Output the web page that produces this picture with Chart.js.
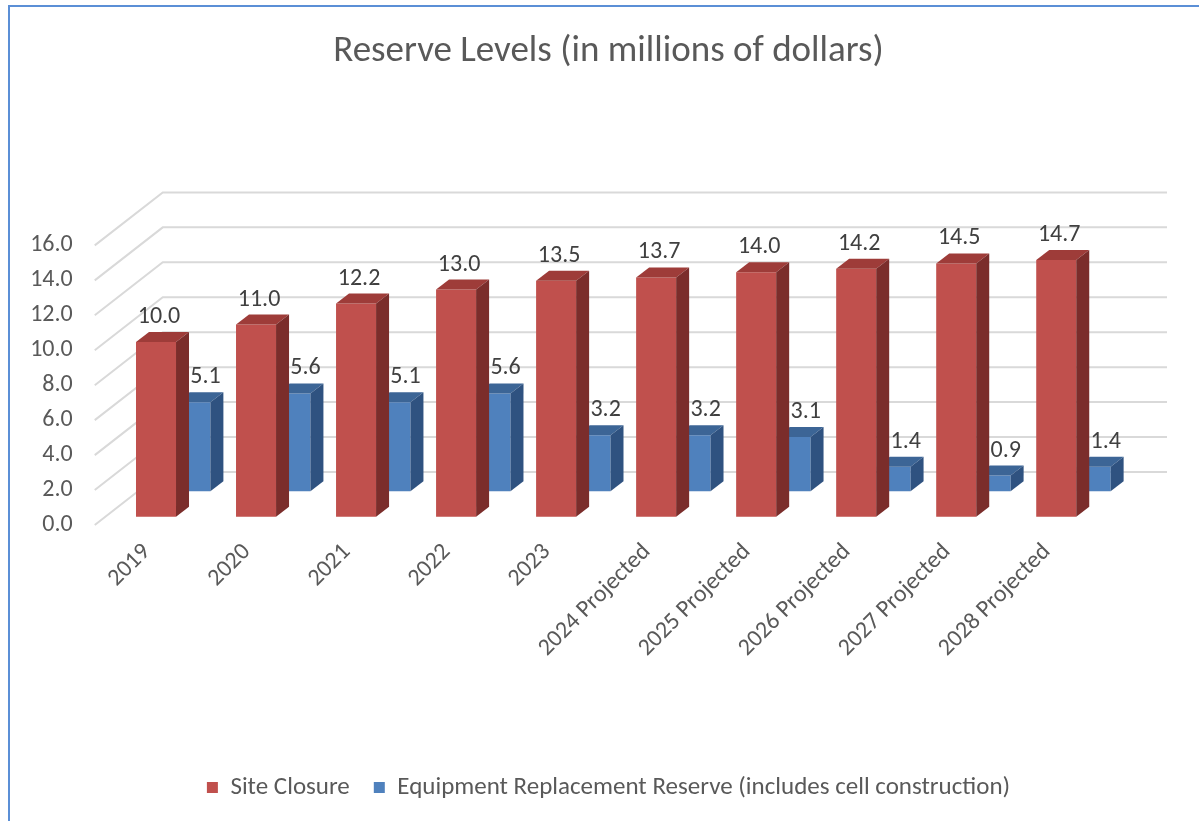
<!DOCTYPE html>
<html>
<head>
<meta charset="utf-8">
<title>Reserve Levels</title>
<script src="https://cdn.jsdelivr.net/npm/chart.js@4.4.1/dist/chart.umd.min.js"></script>
<style>
  html, body { margin: 0; padding: 0; background: #fff; }
  #wrap { position: relative; width: 1199px; height: 821px; }
</style>
</head>
<body>
<div id="wrap"><canvas id="reserveChart"></canvas></div>
<script>
// Values (millions of dollars)
const categories = ['2019', '2020', '2021', '2022', '2023',
    '2024 Projected', '2025 Projected', '2026 Projected', '2027 Projected', '2028 Projected'];
const siteClosure = [10.0, 11.0, 12.2, 13.0, 13.5, 13.7, 14.0, 14.2, 14.5, 14.7];
const equipmentReserve = [5.1, 5.6, 5.1, 5.6, 3.2, 3.2, 3.1, 1.4, 0.9, 1.4];
const seriesNames = ['Site Closure', 'Equipment Replacement Reserve (includes cell construction)'];
const yMax = 16;
const yStep = 2;

// fake 3D look: each series sits on its own depth plane
const RED_LIFT = 0.47;   // red plane raised above the front axis plane (value units)
const BLUE_LIFT = 1.93;  // blue plane sits further back
const DEPTH_X = 13, DEPTH_Y = 10;
const FONT = 'Calibri, Carlito, Lato, sans-serif';
const TEXT = '#595959';

const faces = [
    { front: '#C0504D', top: '#9E3C39', side: '#7B2D2B', labelShift: 3 },
    { front: '#4F81BD', top: '#3C6596', side: '#2F5280', labelShift: 12 }
];

const bars3d = {
    id: 'bars3d',
    beforeDraw(chart) {
        // thin blue frame on top and left like the pasted picture
        const c = chart.ctx;
        c.save();
        c.strokeStyle = '#5B8FD6';
        c.lineWidth = 2;
        c.beginPath();
        c.moveTo(9, chart.height);
        c.lineTo(9, 6);
        c.lineTo(chart.width, 6);
        c.stroke();
        c.restore();
    },
    beforeDatasetsDraw(chart) {
        const c = chart.ctx;
        const yf = chart.scales.yf;
        const a = chart.chartArea;
        c.save();
        c.strokeStyle = '#D9D9D9';
        c.lineWidth = 2;
        yf.ticks.forEach(t => {
            const y = yf.getPixelForValue(t.value);
            c.beginPath();
            c.moveTo(a.left - 30, y);
            c.lineTo(a.left + 38, y - 53);
            c.lineTo(a.right + 42, y - 53);
            c.stroke();
        });
        c.restore();
    },
    afterDatasetDraw(chart, args) {
        const c = chart.ctx;
        const f = faces[args.index];
        c.save();
        args.meta.data.forEach(bar => {
            const p = bar.getProps(['x', 'y', 'base', 'width'], true);
            const l = p.x - p.width / 2, r = p.x + p.width / 2;
            c.fillStyle = f.top;
            c.beginPath();
            c.moveTo(l, p.y);
            c.lineTo(r, p.y);
            c.lineTo(r + DEPTH_X, p.y - DEPTH_Y);
            c.lineTo(l + DEPTH_X, p.y - DEPTH_Y);
            c.closePath();
            c.fill();
            c.fillStyle = f.side;
            c.beginPath();
            c.moveTo(r, p.y);
            c.lineTo(r + DEPTH_X, p.y - DEPTH_Y);
            c.lineTo(r + DEPTH_X, p.base - DEPTH_Y);
            c.lineTo(r, p.base);
            c.closePath();
            c.fill();
        });
        c.restore();
    },
    afterDatasetsDraw(chart) {
        const c = chart.ctx;
        c.save();
        c.font = '24px ' + FONT;
        c.fillStyle = '#404040';
        c.textAlign = 'center';
        c.textBaseline = 'middle';
        chart.data.datasets.forEach((ds, i) => {
            const meta = chart.getDatasetMeta(i);
            meta.data.forEach((bar, j) => {
                const p = bar.getProps(['x', 'y'], true);
                c.fillText(ds.data[j].toFixed(1), p.x + faces[i].labelShift, p.y - 25);
            });
        });
        c.restore();
    }
};

const ctx = document.getElementById('reserveChart').getContext('2d');
new Chart(ctx, {
    type: 'bar',
    data: {
        labels: categories,
        datasets: [{
            label: seriesNames[0],
            data: siteClosure,
            backgroundColor: faces[0].front,
            yAxisID: 'y',
            categoryPercentage: 0.75,
            barPercentage: 1.067
        }, {
            label: seriesNames[1],
            data: equipmentReserve,
            backgroundColor: faces[1].front,
            yAxisID: 'y2',
            categoryPercentage: 0.75,
            barPercentage: 0.9
        }]
    },
    options: {
        responsive: true,
        maintainAspectRatio: false,
        animation: false,
        layout: { padding: { left: 18, right: 0, top: 0, bottom: 11 } },
        plugins: {
            title: {
                display: true,
                text: 'Reserve Levels (in millions of dollars)',
                color: TEXT,
                font: { family: FONT, size: 37, weight: 'normal' },
                padding: { top: 30, bottom: 171 }
            },
            legend: {
                position: 'bottom',
                labels: {
                    color: TEXT,
                    font: { family: FONT, size: 25 },
                    boxWidth: 11,
                    boxHeight: 11,
                    padding: 24
                }
            },
            tooltip: { enabled: false }
        },
        scales: {
            x: {
                grid: { display: false, drawTicks: false },
                border: { display: false },
                ticks: {
                    color: TEXT,
                    font: { family: FONT, size: 24 },
                    minRotation: 45,
                    maxRotation: 45,
                    autoSkip: false,
                    labelOffset: -28,
                    padding: 13
                },
                afterFit(scale) { scale.height = 226; }
            },
            yf: {
                position: 'left',
                min: 0,
                max: yMax,
                grid: { display: false, drawTicks: false },
                border: { display: false },
                ticks: {
                    stepSize: yStep,
                    color: TEXT,
                    font: { family: FONT, size: 24 },
                    padding: 52,
                    callback: v => v.toFixed(1)
                },
                afterFit(scale) { scale.width = 106.75; }
            },
            y: {
                display: false,
                min: -RED_LIFT,
                max: yMax - RED_LIFT
            },
            y2: {
                position: 'right',
                min: -BLUE_LIFT,
                max: yMax - BLUE_LIFT,
                grid: { display: false, drawTicks: false },
                border: { display: false },
                ticks: { display: false },
                afterFit(scale) { scale.width = 74; }
            }
        }
    },
    plugins: [bars3d]
});
</script>
</body>
</html>
